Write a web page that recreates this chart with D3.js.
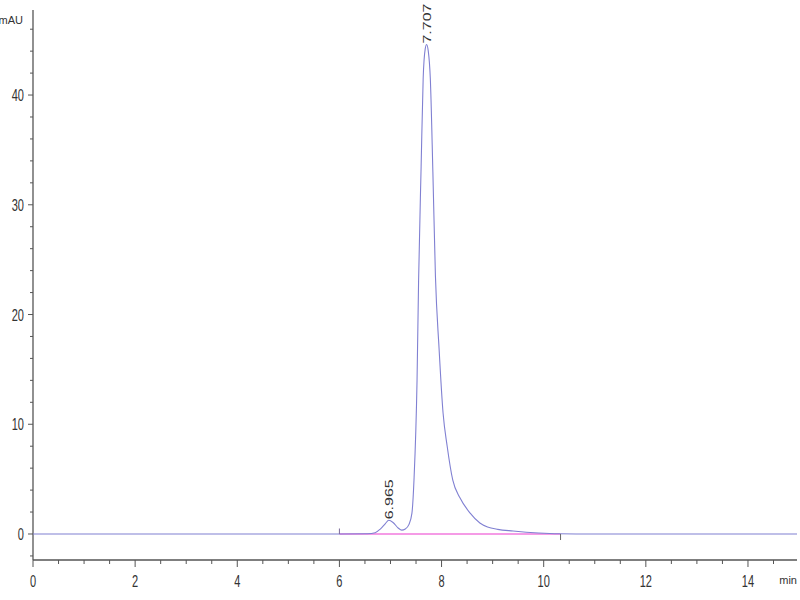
<!DOCTYPE html>
<html>
<head>
<meta charset="utf-8">
<script src="https://cdn.jsdelivr.net/npm/d3@7"></script>
<style>
  body { margin: 0; background: #fff; }
  text { font-family: "Liberation Sans", Arial, sans-serif; fill: #333; }
</style>
</head>
<body>
<div id="chart"></div>
<script>
// retention time (min) and absorbance (mAU)
const times  = [0, 2, 4, 6, 6.55, 6.7, 6.8, 6.9, 6.965, 7.05, 7.15, 7.22, 7.29, 7.36, 7.42, 7.46, 7.52, 7.55, 7.6, 7.64, 7.68, 7.707, 7.74, 7.78, 7.83, 7.88, 7.95, 8.03, 8.11, 8.22, 8.36, 8.56, 8.75, 8.9, 9.1, 9.4, 9.9, 10.3, 11, 14.96];
const signal = [0, 0, 0, 0, 0.02, 0.12, 0.45, 0.95, 1.25, 1.05, 0.55, 0.35, 0.45, 0.85, 1.9, 4.9, 14.0, 23.0, 33.5, 41.5, 44.2, 44.6, 44.0, 41.5, 33.0, 23.5, 17.0, 11.0, 8.0, 4.9, 3.3, 1.9, 1.0, 0.64, 0.42, 0.27, 0.09, 0.02, 0, 0];

const peakTimes  = [6.965, 7.707];
const peakHeights = [1.25, 44.6];
const peakLabels = ["6.965", "7.707"];

const baselineStart = 6.0;
const baselineEnd = 10.33;

const xMajorTicks = [0, 2, 4, 6, 8, 10, 12, 14];
const yMajorTicks = [0, 10, 20, 30, 40];

const width = 800, height = 600;
const sx = 0.65; // the picture is squeezed sideways, text too

const x = d3.scaleLinear().domain([0, 14.96]).range([33, 797]);
const y = d3.scaleLinear().domain([-2.37, 47.75]).range([560, 10]);

const svg = d3.select("#chart").append("svg")
  .attr("width", width).attr("height", height);

// x axis
const xMinor = d3.range(0.5, 14.6, 0.5).filter(d => d % 2 !== 0);
const xAxis = svg.append("g").attr("transform", "translate(0,560)");
xAxis.append("line").attr("x1", 33).attr("x2", 797).attr("y1", 0).attr("y2", 0)
  .attr("stroke", "#555").attr("stroke-width", 1.3);
xAxis.selectAll(".minor").data(xMinor).join("line")
  .attr("x1", d => x(d)).attr("x2", d => x(d)).attr("y1", 0).attr("y2", 4)
  .attr("stroke", "#555");
xAxis.selectAll(".major").data(xMajorTicks).join("line")
  .attr("x1", d => x(d)).attr("x2", d => x(d)).attr("y1", 0).attr("y2", 7)
  .attr("stroke", "#555");
xAxis.selectAll("text.tl").data(xMajorTicks).join("text")
  .attr("class", "tl")
  .attr("transform", d => `translate(${x(d)},27) scale(${sx},1)`)
  .attr("text-anchor", "middle")
  .style("font-size", "17px")
  .text(d => d);

// y axis
const yMinor = d3.range(-2, 47, 2).filter(d => d % 10 !== 0);
const yAxis = svg.append("g");
yAxis.append("line").attr("x1", 33).attr("x2", 33).attr("y1", 10).attr("y2", 560)
  .attr("stroke", "#555").attr("stroke-width", 1.3);
yAxis.selectAll(".minor").data(yMinor).join("line")
  .attr("x1", 30).attr("x2", 33).attr("y1", d => y(d)).attr("y2", d => y(d))
  .attr("stroke", "#555");
yAxis.selectAll(".major").data(yMajorTicks).join("line")
  .attr("x1", 28).attr("x2", 33).attr("y1", d => y(d)).attr("y2", d => y(d))
  .attr("stroke", "#555");
yAxis.selectAll("text.tl").data(yMajorTicks).join("text")
  .attr("class", "tl")
  .attr("transform", d => `translate(24,${y(d) + 6}) scale(${sx},1)`)
  .attr("text-anchor", "end")
  .style("font-size", "17px")
  .text(d => d);

svg.append("text").attr("x", 23).attr("y", 24).attr("text-anchor", "end")
  .style("font-size", "11px").text("mAU");
svg.append("text").attr("x", 797).attr("y", 584).attr("text-anchor", "end")
  .style("font-size", "11px").text("min");

// integration baseline
svg.append("line")
  .attr("x1", x(baselineStart)).attr("x2", x(baselineEnd))
  .attr("y1", y(0)).attr("y2", y(0))
  .attr("stroke", "#f59be6").attr("stroke-width", 2);

// signal
const line = d3.line()
  .x((d, i) => x(times[i]))
  .y(d => y(d))
  .curve(d3.curveMonotoneX);

svg.append("path")
  .datum(signal)
  .attr("fill", "none")
  .attr("stroke", "#8080d2")
  .attr("stroke-width", 1.1)
  .attr("d", line);

// event markers at start/end of integration
svg.append("line")
  .attr("x1", x(baselineStart)).attr("x2", x(baselineStart))
  .attr("y1", y(0)).attr("y2", y(0.5))
  .attr("stroke", "#7a6a9a").attr("stroke-width", 1);
svg.append("line")
  .attr("x1", x(baselineEnd)).attr("x2", x(baselineEnd))
  .attr("y1", y(0)).attr("y2", y(-0.55))
  .attr("stroke", "#666").attr("stroke-width", 1);

// peak labels
svg.selectAll("text.peak").data(peakLabels).join("text")
  .attr("class", "peak")
  .attr("transform", (d, i) => `translate(${x(peakTimes[i]) + 4},${y(peakHeights[i]) - 1}) scale(${sx},1) rotate(-90)`)
  .style("font-size", "16px")
  .text(d => d);
</script>
</body>
</html>
